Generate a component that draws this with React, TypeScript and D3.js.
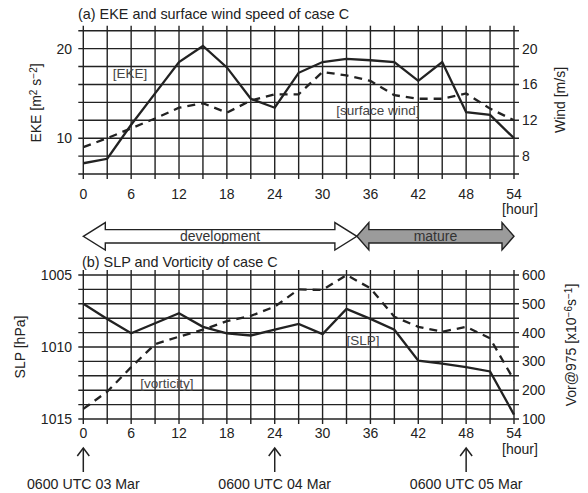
import React, { useEffect, useRef } from 'react';
import * as d3 from 'd3';

// hours after 0600 UTC 03 Mar (every 3 h)
const hours = [0, 3, 6, 9, 12, 15, 18, 21, 24, 27, 30, 33, 36, 39, 42, 45, 48, 51, 54];

// panel (a)
const ekeValues = [7.2, 7.7, 11.5, 15.0, 18.5, 20.3, 17.9, 14.4, 13.4, 17.3, 18.5, 18.85, 18.7, 18.5, 16.4, 18.5, 12.9, 12.6, 10.0];
const windValues = [9.0, 10.0, 11.1, 12.2, 13.4, 13.9, 12.85, 14.2, 14.9, 14.9, 17.4, 17.0, 16.4, 14.8, 14.4, 14.4, 15.0, 13.3, 12.0];

// panel (b)
const slpValues = [1007.0, 1008.05, 1009.05, 1008.35, 1007.65, 1008.6, 1009.05, 1009.2, 1008.8, 1008.4, 1009.1, 1007.35, 1008.05, 1008.8, 1010.95, 1011.15, 1011.4, 1011.7, 1014.7];
const vorValues = [135, 195, 280, 360, 386, 410, 440, 458, 490, 550, 548, 600, 554, 455, 420, 403, 420, 380, 235];

const xTickLabels = [0, 6, 12, 18, 24, 30, 36, 42, 48, 54];
const ekeTickLabels = [10, 20];
const windTickLabels = [8, 12, 16, 20];
const slpTickLabels = [1005, 1010, 1015];
const vorTickLabels = [100, 200, 300, 400, 500, 600];

const phaseNames = ['development', 'mature'];
const phaseStart = [0, 34.3];
const phaseEnd = [34.3, 54];

const dateHours = [0, 24, 48];
const dateLabels = ['0600 UTC 03 Mar', '0600 UTC 04 Mar', '0600 UTC 05 Mar'];

const W = 588;
const H = 493;
const FONT = '"Liberation Sans", Arial, Helvetica, sans-serif';
const INK = '#222';

export default function App() {
  const ref = useRef<SVGSVGElement | null>(null);

  useEffect(() => {
    if (!ref.current) return;
    const svg = d3.select(ref.current);
    svg.selectAll('*').remove();

    const x = d3.scaleLinear().domain([0, 54]).range([83.3, 514]);
    const yA = d3.scaleLinear().domain([6, 22]).range([174, 30.7]); // EKE and wind share the scale
    const ySlp = d3.scaleLinear().domain([1005, 1015]).range([275, 419]);
    const yVor = d3.scaleLinear().domain([100, 600]).range([419, 275]);
    const tick = 5;

    const text = (sel: any, s: string, px: number, py: number, anchor = 'middle', size = 14, fill = INK) =>
      sel.append('text')
        .attr('x', px).attr('y', py)
        .attr('text-anchor', anchor)
        .attr('font-family', FONT)
        .attr('font-size', size)
        .attr('fill', fill)
        .text(s);

    // grid incl. outer ticks
    const grid = (yScale: d3.ScaleLinear<number, number>, yLines: number[]) => {
      const g = svg.append('g').attr('stroke', INK).attr('stroke-width', 1.4);
      const [top, bottom] = [yScale.range()[1], yScale.range()[0]].sort((a, b) => a - b);
      g.selectAll('line.v')
        .data(d3.range(0, 55, 3))
        .join('line')
        .attr('x1', d => x(d)).attr('x2', d => x(d))
        .attr('y1', top - tick).attr('y2', bottom + tick);
      g.selectAll('line.h')
        .data(yLines)
        .join('line')
        .attr('x1', x(0) - tick).attr('x2', x(54) + tick)
        .attr('y1', d => yScale(d)).attr('y2', d => yScale(d));
    };

    grid(yA, d3.range(6, 22.1, 2));
    grid(ySlp, d3.range(1005, 1015.1, 1));

    const line = (xs: number[], ys: number[], yScale: any, dashed: boolean) => {
      const gen = d3.line<number>().x((_, i) => x(xs[i])).y(d => yScale(d));
      svg.append('path')
        .attr('d', gen(ys))
        .attr('fill', 'none')
        .attr('stroke', INK)
        .attr('stroke-width', 2.3)
        .attr('stroke-linejoin', 'miter')
        .attr('stroke-dasharray', dashed ? '8,6' : null);
    };

    line(hours, ekeValues, yA, false);
    line(hours, windValues, yA, true);
    line(hours, slpValues, ySlp, false);
    line(hours, vorValues, yVor, true);

    // tick labels
    xTickLabels.forEach(h => {
      text(svg, String(h), x(h), 198.5);
      text(svg, String(h), x(h), 438);
    });
    text(svg, '[hour]', 520, 214);
    text(svg, '[hour]', 520, 454);
    ekeTickLabels.forEach(v => text(svg, String(v), 72, yA(v) + 5, 'end'));
    windTickLabels.forEach(v => text(svg, String(v), 522, yA(v) + 5, 'start'));
    slpTickLabels.forEach(v => text(svg, String(v), 72, ySlp(v) + 5, 'end'));
    vorTickLabels.forEach(v => text(svg, String(v), 522, yVor(v) + 5, 'start'));

    // titles
    text(svg, '(a) EKE and surface wind speed of case C', 78, 19, 'start', 14.4);
    text(svg, '(b) SLP and Vorticity of case C', 82, 267, 'start', 14.4);

    // series labels
    text(svg, '[EKE]', 130, 78, 'middle', 13.5, '#444');
    text(svg, '[surface wind]', 378, 115, 'middle', 13.5, '#444');
    text(svg, '[SLP]', 363, 345, 'middle', 13.5, '#444');
    text(svg, '[vorticity]', 167, 388, 'middle', 13.5, '#444');

    // rotated axis titles
    const vtitle = (cx: number, cy: number, parts: [string, string][]) => {
      const t = svg.append('text')
        .attr('transform', `translate(${cx},${cy}) rotate(-90)`)
        .attr('text-anchor', 'middle')
        .attr('font-family', FONT)
        .attr('font-size', 14)
        .attr('fill', INK);
      parts.forEach(([s, kind]) => {
        const sp = t.append('tspan').text(s);
        if (kind === 'sup') sp.attr('font-size', 10).attr('baseline-shift', '45%');
      });
    };
    vtitle(41, 103, [['EKE [m', ''], ['2', 'sup'], [' s', ''], ['−2', 'sup'], [']', '']]);
    vtitle(565, 100, [['Wind [m/s]', '']]);
    vtitle(25, 347, [['SLP [hPa]', '']]);
    vtitle(576, 345, [['Vor@975 [x10', ''], ['−6', 'sup'], ['s', ''], ['−1', 'sup'], [']', '']]);

    // phase arrows
    const cy = 236.3;
    const headH = 13.7;
    const shaftH = 6.7;
    const headLen = [22, 12];
    const fills = ['#ffffff', '#9b9b9b'];
    phaseNames.forEach((name, i) => {
      const x0 = x(phaseStart[i]);
      const x1 = x(phaseEnd[i]);
      const hl = headLen[i];
      const pts: [number, number][] = [
        [x0, cy], [x0 + hl, cy - headH], [x0 + hl, cy - shaftH], [x1 - hl, cy - shaftH],
        [x1 - hl, cy - headH], [x1, cy], [x1 - hl, cy + headH], [x1 - hl, cy + shaftH],
        [x0 + hl, cy + shaftH], [x0 + hl, cy + headH],
      ];
      svg.append('path')
        .attr('d', d3.line()(pts) + 'Z')
        .attr('fill', fills[i])
        .attr('stroke', INK)
        .attr('stroke-width', 1.4)
        .attr('stroke-linejoin', 'miter');
      text(svg, name, (x0 + x1) / 2, cy + 5, 'middle', 14, '#333');
    });

    // date markers
    dateHours.forEach((h, i) => {
      const px = x(h);
      const g = svg.append('g').attr('stroke', INK).attr('stroke-width', 1.5).attr('fill', 'none');
      g.append('line').attr('x1', px).attr('x2', px).attr('y1', 448).attr('y2', 472);
      g.append('path').attr('d', `M${px - 6},${456} L${px},${448} L${px + 6},${456}`);
      text(svg, dateLabels[i], px, 489, 'middle', 14.2);
    });
  }, []);

  return (
    <svg
      ref={ref}
      width={W}
      height={H}
      viewBox={`0 0 ${W} ${H}`}
      style={{ position: 'absolute', left: 0, top: 0, background: '#fff' }}
    />
  );
}
